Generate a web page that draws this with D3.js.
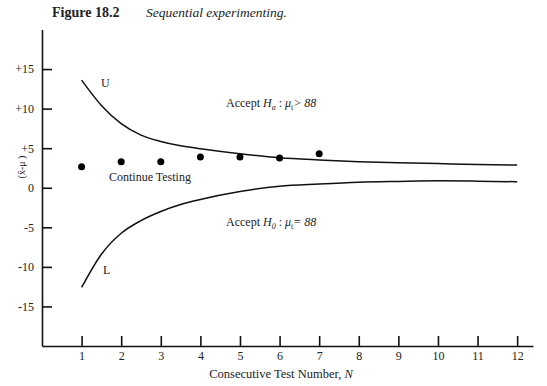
<!DOCTYPE html>
<html>
<head>
<meta charset="utf-8">
<script src="https://cdn.jsdelivr.net/npm/d3@7"></script>
<style>
  body { margin: 0; background: #fff; }
  svg text { font-family: "Liberation Serif", "Times New Roman", serif; fill: #222; }
</style>
</head>
<body>
<div id="container"></div>
<script>
const W = 547;
const H = 386;
const SERIF = '"Liberation Serif", "Times New Roman", serif';

// test numbers and observed mean differences
const testN = [1, 2, 3, 4, 5, 6, 7];
const diffs = [2.65, 3.3, 3.3, 3.9, 3.9, 3.75, 4.3];

// boundary curves
const curveN = [1, 1.5, 2, 2.5, 3, 3.5, 4, 5, 6, 7, 8, 9, 10, 11, 12];
const upperU = [13.6, 10.4, 8.1, 6.65, 5.85, 5.3, 4.93, 4.3, 3.8, 3.52, 3.3, 3.15, 3.05, 2.95, 2.86];
const lowerL = [-12.6, -8.4, -5.75, -4.15, -3.0, -2.12, -1.48, -0.48, 0.2, 0.48, 0.7, 0.8, 0.87, 0.83, 0.76];

const xTicks = [1, 2, 3, 4, 5, 6, 7, 8, 9, 10, 11, 12];
const yTicks = [-15, -10, -5, 0, 5, 10, 15];

const svg = d3
  .select("#container")
  .append("svg")
  .attr("width", W)
  .attr("height", H)
  .style("font-family", SERIF);

const x = d3.scaleLinear().domain([0, 12.4]).range([42, 533]);
const y = d3.scaleLinear().domain([-20, 20]).range([346, 29.5]);

// title
const title = svg.append("text").attr("x", 52).attr("y", 17).style("font-size", "14px");
title.append("tspan").style("font-weight", "bold").text("Figure 18.2");
title.append("tspan").attr("x", 146).style("font-style", "italic").style("font-size", "13.5px").text("Sequential experimenting.");

// axes
const xAxis = d3
  .axisBottom(x)
  .tickValues(xTicks)
  .tickSizeInner(-10)
  .tickSizeOuter(0)
  .tickPadding(5);

const yAxis = d3
  .axisLeft(y)
  .tickValues(yTicks)
  .tickSizeInner(-10)
  .tickSizeOuter(0)
  .tickPadding(8)
  .tickFormat(d => (d > 0 ? "+" + d : String(d)));

const gx = svg
  .append("g")
  .attr("transform", `translate(0,${y(-20)})`)
  .call(xAxis);

const gy = svg
  .append("g")
  .attr("transform", `translate(${x(0)},0)`)
  .call(yAxis);

[gx, gy].forEach(g => {
  g.attr("font-family", null).attr("font-size", null);
  g.select(".domain").attr("stroke", "#111").attr("stroke-width", 1.6);
  g.selectAll(".tick line").attr("stroke", "#111").attr("stroke-width", 1.6);
  g.selectAll(".tick text")
    .style("font-family", SERIF)
    .style("font-size", "12px")
    .attr("fill", "#333");
});

// axis titles
const xt = svg
  .append("text")
  .attr("x", 281)
  .attr("y", 378)
  .attr("text-anchor", "middle")
  .style("font-size", "12.5px");
xt.append("tspan").text("Consecutive Test Number, ");
xt.append("tspan").style("font-style", "italic").text("N");

svg
  .append("text")
  .attr("transform", "translate(25,167) rotate(-90)")
  .attr("text-anchor", "middle")
  .style("font-size", "10px")
  .attr("fill", "#333")
  .text("(x\u0304-\u03bc )");

// boundary lines
const line = d3
  .line()
  .x(d => x(d[0]))
  .y(d => y(d[1]))
  .curve(d3.curveMonotoneX);

svg
  .append("path")
  .datum(curveN.map((n, i) => [n, upperU[i]]))
  .attr("d", line)
  .attr("fill", "none")
  .attr("stroke", "#111")
  .attr("stroke-width", 1.5);

svg
  .append("path")
  .datum(curveN.map((n, i) => [n, lowerL[i]]))
  .attr("d", line)
  .attr("fill", "none")
  .attr("stroke", "#111")
  .attr("stroke-width", 1.5);

// observations
svg
  .selectAll(".dot")
  .data(testN.map((n, i) => [n, diffs[i]]))
  .enter()
  .append("circle")
  .attr("class", "dot")
  .attr("cx", d => x(d[0]))
  .attr("cy", d => y(d[1]))
  .attr("r", 3.5)
  .attr("fill", "#000");

// region labels
function addLabel(lx, ly, text) {
  svg
    .append("text")
    .attr("x", lx)
    .attr("y", ly)
    .style("font-size", "12px")
    .text(text);
}
addLabel(101, 87, "U");
addLabel(103, 274, "L");
addLabel(109, 181, "Continue Testing");

function addAccept(ly, sub, rest) {
  const t = svg
    .append("text")
    .attr("x", 226)
    .attr("y", ly)
    .style("font-size", "12px");
  t.append("tspan").text("Accept ");
  t.append("tspan").style("font-style", "italic").text("H");
  t.append("tspan").attr("dy", 3).style("font-size", "8px").style("font-style", "italic").text(sub);
  t.append("tspan").attr("dy", -3).text(" : ");
  t.append("tspan").style("font-style", "italic").text("\u03bc");
  t.append("tspan").attr("dy", 3).style("font-size", "8px").text("t");
  t.append("tspan").attr("dy", -3).style("font-style", "italic").text(rest);
}
addAccept(107, "a", "> 88");
addAccept(226, "0", "= 88");
</script>
</body>
</html>
